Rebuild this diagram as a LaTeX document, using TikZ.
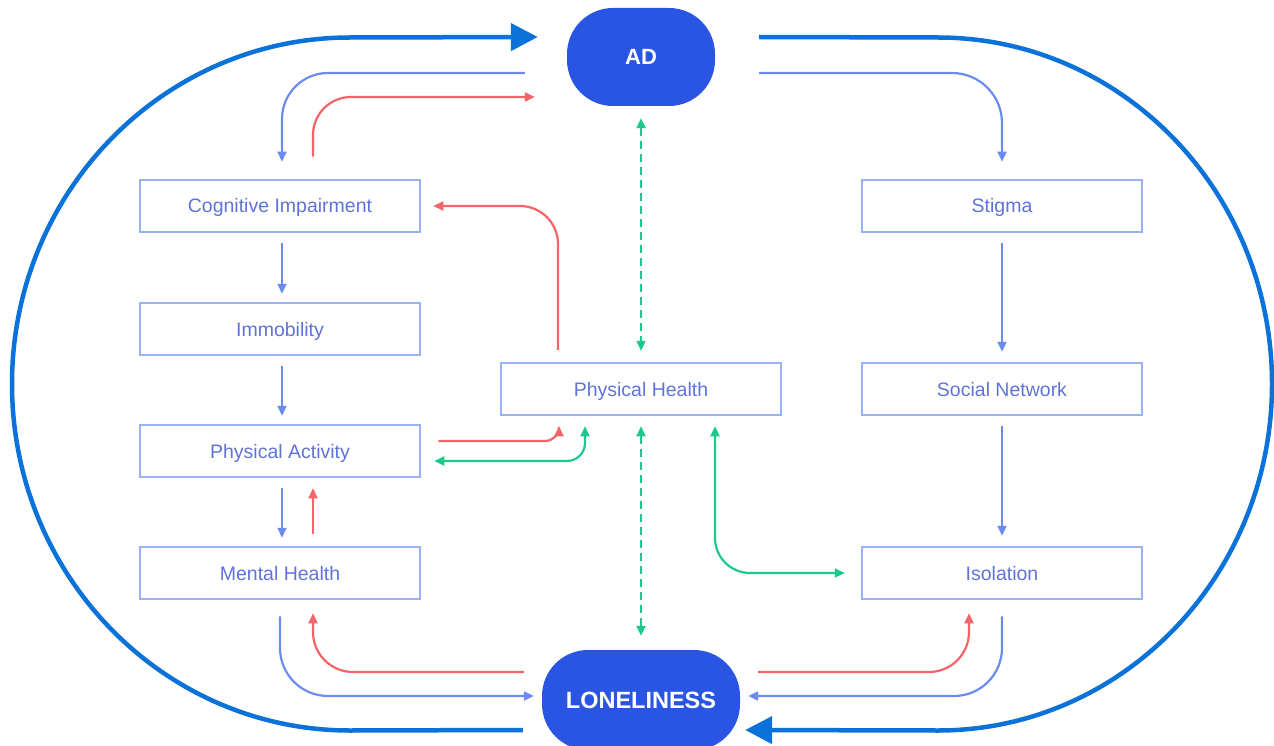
\documentclass[tikz,border=0pt]{standalone}
\usepackage{fontspec}
\setmainfont{Liberation Sans}
\usetikzlibrary{arrows.meta,calc}
\definecolor{boxc}{HTML}{98B2F5}
\definecolor{txtc}{HTML}{5F72D8}
\definecolor{thinb}{HTML}{6B8CEE}
\definecolor{bigb}{HTML}{0A72D8}
\definecolor{adfill}{HTML}{2A55E2}
\definecolor{redc}{HTML}{F46468}
\definecolor{grnc}{HTML}{1CC98A}
\tikzset{
  stdbox/.style={draw=boxc, line width=2.5pt, text=txtc, minimum width=280pt, minimum height=52pt, inner sep=0pt, text height=14pt, text depth=0pt, font=\fontsize{19.5}{22}\selectfont},
  hub/.style={fill=adfill, text=white, rounded corners=46pt, inner sep=0pt, text depth=0pt, font=\bfseries\fontsize{22}{26}\selectfont},
  tb/.style={draw=thinb, line width=2.2pt, -{Triangle[length=10pt,width=9pt]}},
  tr/.style={draw=redc, line width=2.2pt, -{Triangle[length=10pt,width=9pt]}},
  tg/.style={draw=grnc, line width=2.2pt, {Triangle[length=10pt,width=9pt]}-{Triangle[length=10pt,width=9pt]}},
  tgd/.style={tg, dash pattern=on 8pt off 5pt},
  big/.style={draw=bigb, line width=4.5pt},
  bigarrow/.style={big, -{Triangle[length=27pt,width=27pt]}},
}
\begin{document}
\begin{tikzpicture}[x=1pt,y=-1pt]
\useasboundingbox (0,0) rectangle (1274,746);
\clip (0,0) rectangle (1274,746);
% hubs
\node[hub, minimum width=148pt, minimum height=98pt, text height=16pt] (ad) at (641,57) {AD};
\node[hub, minimum width=198pt, minimum height=100pt, text height=17pt, font=\bfseries\fontsize{23.5}{27}\selectfont] (lon) at (641,700) {LONELINESS};
% boxes
\node[stdbox] (cog) at (280,206) {Cognitive Impairment};
\node[stdbox] (imm) at (280,329) {Immobility};
\node[stdbox] (pa)  at (280,451) {Physical Activity};
\node[stdbox] (mh)  at (280,573) {Mental Health};
\node[stdbox] (ph)  at (641,389) {Physical Health};
\node[stdbox] (st)  at (1002,206) {Stigma};
\node[stdbox] (sn)  at (1002,389) {Social Network};
\node[stdbox] (iso) at (1002,573) {Isolation};
% big loop
\draw[bigarrow] ($(lon.west)+(-19,30)$) -- (350,730.5)
   arc[start angle=90, end angle=270, x radius=338, y radius=346.5]
   -- ($(ad.west)+(-29,-20)$);
\draw[bigarrow] ($(ad.east)+(44,-20)$) -- (938,37.5)
   arc[start angle=270, end angle=450, x radius=334, y radius=346.5]
   -- ($(lon.east)+(5,30)$);
% AD <-> cognitive impairment
\draw[tb, rounded corners=46pt] ($(ad.west)+(-42,16)$) -| ([xshift=2pt,yshift=17pt]cog.north);
\draw[tr, rounded corners=38pt] ([xshift=33pt,yshift=22pt]cog.north) |- ($(ad.west)+(-32,40)$);
% AD -> stigma
\draw[tb, rounded corners=50pt] ($(ad.east)+(44,16)$) -| ([yshift=17pt]st.north);
% left column
\draw[tb] ([xshift=2pt,yshift=-10pt]cog.south) -- ([xshift=2pt,yshift=8pt]imm.north);
\draw[tb] ([xshift=2pt,yshift=-10pt]imm.south) -- ([xshift=2pt,yshift=8pt]pa.north);
\draw[tb] ([xshift=2pt,yshift=-10pt]pa.south) -- ([xshift=2pt,yshift=8pt]mh.north);
\draw[tr] ([xshift=33pt,yshift=12pt]mh.north) -- ([xshift=33pt,yshift=-10pt]pa.south);
% right column
\draw[tb] ([yshift=-10pt]st.south) -- ([yshift=10pt]sn.north);
\draw[tb] ([yshift=-10pt]sn.south) -- ([yshift=10pt]iso.north);
% physical health links
\draw[tr, rounded corners=38pt] ([xshift=-83pt,yshift=12pt]ph.north) |- ([xshift=12pt]cog.east);
\draw[tr, rounded corners=14pt] ([xshift=17pt,yshift=10pt]pa.east) -| ([xshift=-82pt,yshift=-10pt]ph.south);
\draw[tg, rounded corners=18pt] ([xshift=13pt,yshift=-10pt]pa.east) -| ([xshift=-56pt,yshift=-10pt]ph.south);
\draw[tg, rounded corners=35pt] ([xshift=74pt,yshift=-10pt]ph.south) |- ([xshift=-16pt]iso.west);
\draw[tgd] ([yshift=-12pt]ad.south) -- ([yshift=11pt]ph.north);
\draw[tgd] ([yshift=-10pt]ph.south) -- ([yshift=14pt]lon.north);
% loneliness links
\draw[tr, rounded corners=40pt] ($(lon.west)+(-18,-28)$) -| ([xshift=33pt,yshift=-13pt]mh.south);
\draw[tb, rounded corners=48pt] ([yshift=-16pt]mh.south) |- ($(lon.west)+(-8,-4)$);
\draw[tr, rounded corners=40pt] ($(lon.east)+(18,-28)$) -| ([xshift=-33pt,yshift=-13pt]iso.south);
\draw[tb, rounded corners=48pt] ([yshift=-16pt]iso.south) |- ($(lon.east)+(8,-4)$);
\end{tikzpicture}
\end{document}
